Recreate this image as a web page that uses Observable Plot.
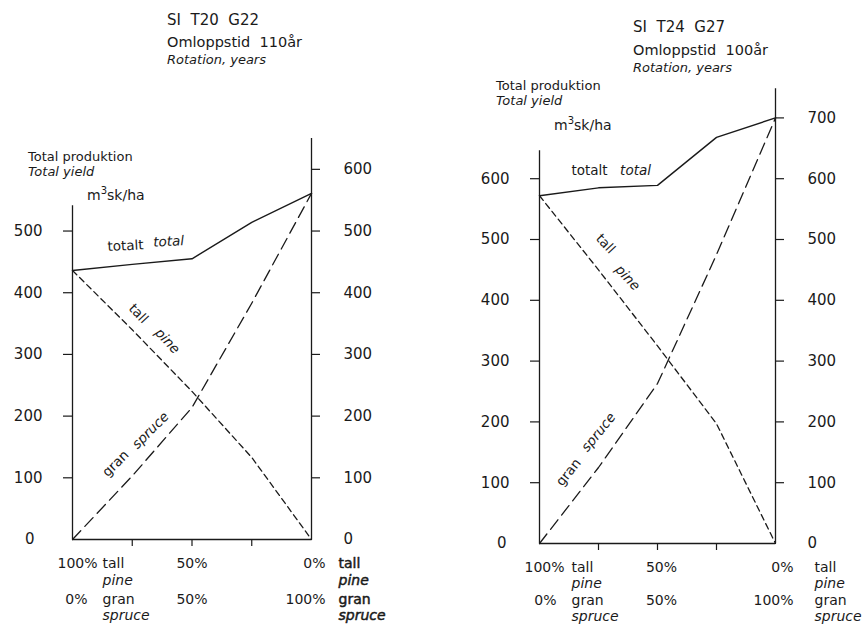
<!DOCTYPE html>
<html>
<head>
<meta charset="utf-8">
<script src="https://cdn.jsdelivr.net/npm/d3@7"></script>
<script src="https://cdn.jsdelivr.net/npm/@observablehq/plot@0.6"></script>
<style>
  html, body { margin: 0; padding: 0; background: #fff; }
  #wrap { position: relative; width: 862px; height: 626px; overflow: hidden; font-family: "DejaVu Sans", sans-serif; color: #1a1a1a; }
  .panel { position: absolute; top: 0; }
  .t { position: absolute; white-space: pre; line-height: 1; }
  .i { font-style: italic; }
</style>
</head>
<body>
<div id="wrap"></div>
<script>
// ---- data (share of pine in %, volume m3sk/ha) ----
const pct = [100, 75, 50, 25, 0];

const leftTotal  = [436, 446, 455, 514, 561];
const leftPine   = [436, 340, 240, 133, 0];
const leftSpruce = [0, 103, 214, 383, 561];

const rightTotal  = [572, 585, 589, 668, 700];
const rightPine   = [572, 450, 325, 197, 0];
const rightSpruce = [0, 125, 263, 475, 700];

const leftTicksL  = [100, 200, 300, 400, 500];
const leftTicksR  = [100, 200, 300, 400, 500, 600];
const rightTicksL = [100, 200, 300, 400, 500, 600];
const rightTicksR = [100, 200, 300, 400, 500, 600, 700];
const xTicks = [75, 50, 25];

const titlesLeft  = ["SI  T20  G22", "Omloppstid  110år", "Rotation, years"];
const titlesRight = ["SI  T24  G27", "Omloppstid  100år", "Rotation, years"];

const toRows = vals => pct.map((p, i) => ({pct: p, v: vals[i]}));

function panel(cfg) {
  const ink = "#1a1a1a";
  const marks = [
    // axis lines
    Plot.ruleX([100], {y1: 0, y2: cfg.leftTop, stroke: ink, strokeWidth: 1.3}),
    Plot.ruleX([0], {y1: 0, y2: cfg.rightTop, stroke: ink, strokeWidth: 1.3}),
    Plot.ruleY([0], {x1: 100, x2: 0, stroke: ink, strokeWidth: 1.3}),
    Plot.axisY(cfg.ticksL, {anchor: "left", tickSize: 9, tickPadding: 21, fontSize: 15, stroke: ink, strokeWidth: 1.2}),
    Plot.axisY([0], {anchor: "left", tickSize: 0, tickPadding: cfg.zeroPad, fontSize: 15}),
    Plot.axisY(cfg.ticksR, {anchor: "right", tickSize: 8, tickPadding: 24, fontSize: 15, stroke: ink, strokeWidth: 1.2}),
    Plot.axisY([0], {anchor: "right", tickSize: 0, tickPadding: 32, fontSize: 15}),
    Plot.axisX(xTicks, {anchor: "bottom", tickSize: 7, tickFormat: () => "", stroke: ink, strokeWidth: 1.2}),
    // series
    Plot.line(toRows(cfg.total), {x: "pct", y: "v", stroke: ink, strokeWidth: 1.4}),
    Plot.line(toRows(cfg.pine), {x: "pct", y: "v", stroke: ink, strokeWidth: 1.3, strokeDasharray: "6,4"}),
    Plot.line(toRows(cfg.spruce), {x: "pct", y: "v", stroke: ink, strokeWidth: 1.3, strokeDasharray: "12,6"}),
  ];
  // inline curve labels
  for (const l of cfg.labels) {
    marks.push(Plot.text([l], {x: "x", y: "y", text: "text", rotate: l.rotate, fontSize: 13.5,
      fontStyle: l.italic ? "italic" : "normal", fill: ink}));
  }
  // bottom labels
  for (const b of cfg.bottom) {
    marks.push(Plot.text([b], {x: "x", y: () => 0, text: "text", dx: b.dx, dy: b.dy,
      textAnchor: b.anchor, fontSize: 14, fontStyle: b.italic ? "italic" : "normal",
      fill: ink, stroke: b.bold ? ink : "none", strokeWidth: b.bold ? 0.5 : 0}));
  }
  return Plot.plot({
    width: 431, height: 626,
    marginLeft: cfg.ml, marginRight: cfg.mr, marginTop: cfg.mt, marginBottom: cfg.mb,
    x: {domain: [100, 0], axis: null},
    y: {domain: [0, cfg.yMax], axis: null},
    style: {fontFamily: "DejaVu Sans, sans-serif", color: ink, background: "transparent", overflow: "visible"},
    marks
  });
}

function bottomSet(o, bold) {
  return [
    {x: 100, text: "100%", dx: o.a, dy: o.r1, anchor: "end"},
    {x: 100, text: "tall", dx: o.b, dy: o.r1, anchor: "start"},
    {x: 100, text: "pine", dx: o.b, dy: o.r1b, anchor: "start", italic: true},
    {x: 100, text: "0%", dx: o.c, dy: o.r2, anchor: "end"},
    {x: 100, text: "gran", dx: o.b, dy: o.r2, anchor: "start"},
    {x: 100, text: "spruce", dx: o.b, dy: o.r2b, anchor: "start", italic: true},
    {x: 50, text: "50%", dx: o.m, dy: o.r1, anchor: "middle"},
    {x: 50, text: "50%", dx: o.m, dy: o.r2, anchor: "middle"},
    {x: 0, text: "0%", dx: o.d, dy: o.r1, anchor: "end"},
    {x: 0, text: "tall", dx: o.e, dy: o.r1, anchor: "start", bold},
    {x: 0, text: "pine", dx: o.e, dy: o.r1b, anchor: "start", italic: true, bold},
    {x: 0, text: "100%", dx: o.d, dy: o.r2, anchor: "end"},
    {x: 0, text: "gran", dx: o.e, dy: o.r2, anchor: "start", bold},
    {x: 0, text: "spruce", dx: o.e, dy: o.r2b, anchor: "start", italic: true, bold},
  ];
}

const left = panel({
  ml: 72, mr: 120, mt: 138, mb: 87, yMax: 650, leftTop: 541, rightTop: 650, zeroPad: 38,
  ticksL: leftTicksL, ticksR: leftTicksR,
  total: leftTotal, pine: leftPine, spruce: leftSpruce,
  labels: [
    {text: "totalt", x: 77.8, y: 476, rotate: -3},
    {text: "total", x: 59.8, y: 483, rotate: -3, italic: true},
    {text: "tall", x: 72.4, y: 366, rotate: 47},
    {text: "pine", x: 60.3, y: 322, rotate: 47, italic: true},
    {text: "gran", x: 82, y: 123, rotate: -45},
    {text: "spruce", x: 67.4, y: 177, rotate: -45, italic: true},
  ],
  bottom: bottomSet({a: 25, b: 30, c: 15, m: 0, d: 14, e: 27, r1: 24, r1b: 41, r2: 60, r2b: 76}, true)
});

const right = panel({
  ml: 108, mr: 87, mt: 87, mb: 83, yMax: 750, leftTop: 646, rightTop: 748, zeroPad: 33,
  ticksL: rightTicksL, ticksR: rightTicksR,
  total: rightTotal, pine: rightPine, spruce: rightSpruce,
  labels: [
    {text: "totalt", x: 78.8, y: 613, rotate: 0},
    {text: "total", x: 59.3, y: 613, rotate: 0, italic: true},
    {text: "tall", x: 72, y: 493, rotate: 47},
    {text: "pine", x: 62.7, y: 437, rotate: 47, italic: true},
    {text: "gran", x: 87.7, y: 117, rotate: -51},
    {text: "spruce", x: 75, y: 183, rotate: -51, italic: true},
  ],
  bottom: bottomSet({a: 25, b: 32, c: 17, m: 4, d: 18, e: 39, r1: 24, r1b: 40, r2: 57, r2b: 73}, false)
});

const wrap = document.getElementById("wrap");
left.classList.add("panel"); left.style.left = "0px";
right.classList.add("panel"); right.style.left = "431px";
wrap.appendChild(left);
wrap.appendChild(right);

function addText(txt, x, cy, size, italic) {
  const d = document.createElement("div");
  d.className = "t" + (italic ? " i" : "");
  d.textContent = txt;
  d.style.left = x + "px";
  d.style.top = (cy - size / 2) + "px";
  d.style.fontSize = size + "px";
  wrap.appendChild(d);
}
function addSup(x, cy, size) {
  const d = document.createElement("div");
  d.className = "t";
  d.style.left = x + "px";
  d.style.top = (cy - size / 2) + "px";
  d.style.fontSize = size + "px";
  d.innerHTML = "m<sup style='font-size:10px'>3</sup>sk/ha";
  wrap.appendChild(d);
}

// left panel titles
addText(titlesLeft[0], 167, 20, 15, false);
addText(titlesLeft[1], 167, 42, 14.5, false);
addText(titlesLeft[2], 167, 59, 13, true);
addText("Total produktion", 28, 156, 13, false);
addText("Total yield", 28, 171, 13, true);
addSup(87, 193, 14);

// right panel titles
addText(titlesRight[0], 633, 27, 15, false);
addText(titlesRight[1], 633, 50, 14.5, false);
addText(titlesRight[2], 633, 67, 13, true);
addText("Total produktion", 496, 85, 13, false);
addText("Total yield", 496, 100, 13, true);
addSup(554, 123, 14);
</script>
</body>
</html>
